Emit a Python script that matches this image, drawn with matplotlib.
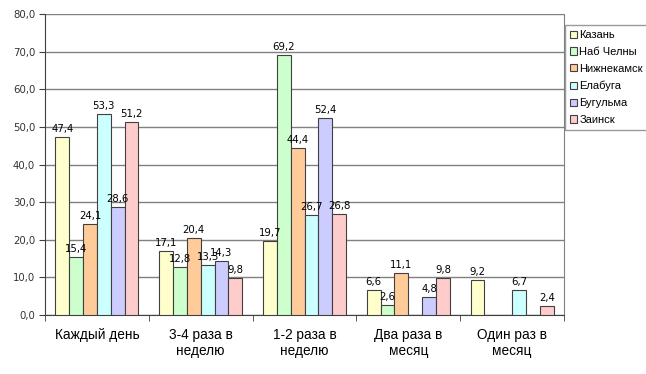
import matplotlib
matplotlib.use("Agg")
import matplotlib.pyplot as plt
import numpy as np

categories = ["Каждый день", "3-4 раза в\nнеделю", "1-2 раза в\nнеделю", "Два раза в\nмесяц", "Один раз в\nмесяц"]
series_names = ["Казань", "Наб Челны", "Нижнекамск", "Елабуга", "Бугульма", "Заинск"]
kazan = [47.4, 17.1, 19.7, 6.6, 9.2]
nab_chelny = [15.4, 12.8, 69.2, 2.6, 0.0]
nizhnekamsk = [24.1, 20.4, 44.4, 11.1, 0.0]
elabuga = [53.3, 13.3, 26.7, 0.0, 6.7]
bugulma = [28.6, 14.3, 52.4, 4.8, 0.0]
zainsk = [51.2, 9.8, 26.8, 9.8, 2.4]
colors = ["#FFFFCC", "#CCFFCC", "#FFCC99", "#CCFFFF", "#CCCCFF", "#FFCCCC"]
yticks = [0, 10, 20, 30, 40, 50, 60, 70, 80]

series = [kazan, nab_chelny, nizhnekamsk, elabuga, bugulma, zainsk]

fig = plt.figure(figsize=(6.46, 3.74), dpi=100)
ax = fig.add_axes([45/646, 1-315/374, (564-45)/646, (315-14)/374])

x = np.arange(len(categories))
n = len(series)
group = 0.8
w = group / n
for i, (name, vals, c) in enumerate(zip(series_names, series, colors)):
    pos = x - group/2 + w*(i+0.5)
    ax.bar(pos, vals, width=w, color=c, edgecolor="#404040", linewidth=0.8,
           label=name, zorder=3)
    for p, v in zip(pos, vals):
        if v > 0:
            ax.text(p, v + 0.8, f"{v:.1f}".replace(".", ","), ha="center", va="bottom",
                    fontsize=7.3, family="DejaVu Sans", color="black", zorder=4)

ax.set_xlim(-0.5, len(categories) - 0.5)
ax.set_ylim(0, 80)
ax.set_yticks(yticks)
ax.set_yticklabels([f"{t:.1f}".replace(".", ",") for t in yticks], fontsize=7.3,
                   family="DejaVu Sans", color="#333333")
ax.yaxis.grid(True, color="#808080", linewidth=1.0, zorder=0)
ax.set_axisbelow(True)
ax.set_xticks(x)
ax.set_xticklabels(categories, fontsize=9.8, family="Liberation Sans")
ax.tick_params(axis="x", length=0, pad=9)
ax.set_xticks(np.arange(len(categories) + 1) - 0.5, minor=True)
ax.tick_params(axis="x", which="minor", length=4, color="#404040")
ax.tick_params(axis="y", length=4, color="#404040", pad=3)
ax.spines["top"].set_visible(False)
ax.spines["right"].set_color("#808080")
ax.spines["left"].set_color("#404040")
ax.spines["bottom"].set_color("#404040")

leg = fig.legend(loc="upper left", bbox_to_anchor=(565/646, 1-25/374), frameon=True,
                 fancybox=False, edgecolor="#808080",
                 prop={"family": "Liberation Sans", "size": 8},
                 handlelength=0.6, handleheight=0.6, handletextpad=0.25,
                 labelspacing=0.62, borderpad=0.45, borderaxespad=0)
leg.get_frame().set_linewidth(1.0)
for h in leg.legend_handles:
    h.set_linewidth(0.8)

fig.savefig("out.png", dpi=100)
